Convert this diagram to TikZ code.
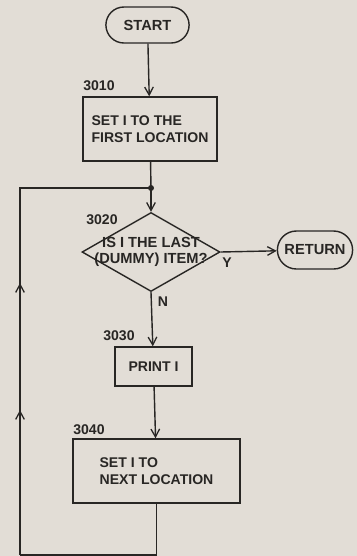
\documentclass[tikz,border=0pt]{standalone}
\usepackage{fontspec}
\newfontfamily\chartfont{Liberation Sans}
\usepackage{tikz}
\usetikzlibrary{arrows.meta,positioning,shapes.geometric,shapes.misc,decorations.markings}
\definecolor{paper}{RGB}{226,221,214}
\definecolor{ink}{RGB}{40,38,36}
\tikzset{
  term/.style={rounded rectangle,draw=ink,line width=1.2pt,align=center,
    minimum height=10.8mm,font=\chartfont\bfseries\fontsize{12.5}{14}\selectfont,text=ink},
  proc/.style={rectangle,draw=ink,line width=1.2pt,align=left,
    minimum height=19.2mm,font=\chartfont\bfseries\fontsize{12}{14}\selectfont,text=ink},
  dec/.style={diamond,draw=ink,line width=1.2pt,inner sep=0pt,
    minimum width=41.4mm,minimum height=23.7mm},
  dectext/.style={align=center,font=\chartfont\bfseries\fontsize{12.5}{13.5}\selectfont,text=ink},
  num/.style={font=\chartfont\bfseries\fontsize{12}{13}\selectfont,text=ink,inner sep=0pt},
  arrow/.style={-{Straight Barb[length=2.4mm,width=2.6mm,line width=1.1pt]},line width=1.2pt,draw=ink},
  flow/.style={line width=1.2pt,draw=ink},
}

\begin{document}
\begin{tikzpicture}[x=0.3mm,y=-0.3mm]
\fill[paper] (0,0) rectangle (357,556);
\useasboundingbox (0,0) rectangle (357,556);

\node[term,minimum width=27.3mm] (start) at (147.5,25) {START};
\node[proc,minimum width=40.2mm] (setfirst) at (150,129) {SET I TO THE\\FIRST LOCATION};
\coordinate (jn) at (151,188);
\node[dec,label={[dectext]center:{IS I THE LAST\\(DUMMY) ITEM?}}] (islast) at (151,252) {};
\node[term,minimum width=24.9mm,minimum height=11.4mm] (ret) at (315,250) {RETURN};
\node[proc,minimum width=23.1mm,minimum height=11.7mm] (print) at (153.5,366.5) {PRINT I};
\node[proc,minimum width=50.1mm] (setnext) at (156.5,471) {SET I TO\\NEXT LOCATION};

\node[num] (n3010) at (99,86) {3010};
\node[num] (n3020) at (102,220) {3020};
\node[num] (n3030) at (119,336) {3030};
\node[num] (n3040) at (89,430) {3040};
\node[num] (ylbl) at (227,263) {Y};
\node[num] (nlbl) at (163,302) {N};

\coordinate (lb) at (20,555);
\coordinate (lt) at (20,188);

\draw[arrow] (start) -- (setfirst);
\draw[flow] (setfirst) -- (jn);
\fill[ink] (jn) circle (0.9mm);
\draw[arrow] (jn) -- (islast);
\draw[arrow] (islast.east) -- (ret);
\draw[arrow] (islast.south) -- (print);
\draw[arrow] (print) -- (setnext);
\draw[flow] (setnext.south) |- (lb);
\draw[flow,postaction={decorate},decoration={markings,
  mark=at position 0.291 with {\arrow{Straight Barb[length=2.4mm,width=2.6mm,line width=1.1pt]}},
  mark=at position 0.546 with {\arrow{Straight Barb[length=2.4mm,width=2.6mm,line width=1.1pt]}}}]
  (lb) -- (lt) -- (jn);
\end{tikzpicture}
\end{document}
